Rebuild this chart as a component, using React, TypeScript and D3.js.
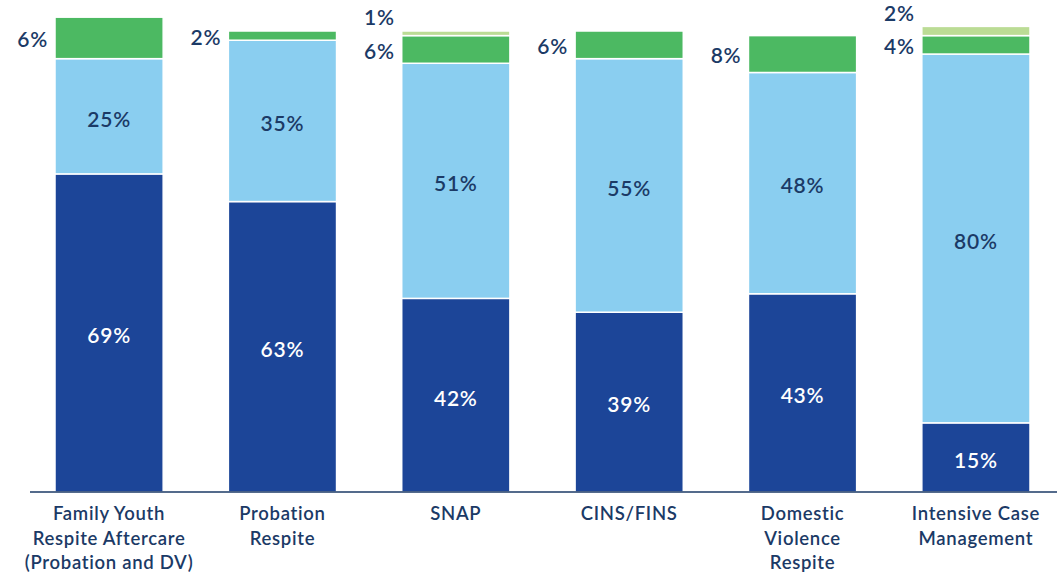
import { useEffect, useRef } from "react";
import * as d3 from "d3";

// category names, split into the lines shown under the axis
const categories = [
  "Family Youth Respite Aftercare (Probation and DV)",
  "Probation Respite",
  "SNAP",
  "CINS/FINS",
  "Domestic Violence Respite",
  "Intensive Case Management",
];
const categoryLines = [
  ["Family Youth", "Respite Aftercare", "(Probation and DV)"],
  ["Probation", "Respite"],
  ["SNAP"],
  ["CINS/FINS"],
  ["Domestic", "Violence", "Respite"],
  ["Intensive Case", "Management"],
];

// series values (percent of bar)
const darkValues = [69, 63, 42, 39, 43, 15];
const lightValues = [25, 35, 51, 55, 48, 80];
const greenValues = [9, 2, 6, 6, 8, 4]; // first bar is drawn taller than its 6% label
const paleValues = [0, 0, 1, 0, 0, 2];

// printed labels
const darkLabels = ["69%", "63%", "42%", "39%", "43%", "15%"];
const lightLabels = ["25%", "35%", "51%", "55%", "48%", "80%"];
const greenLabels = ["6%", "2%", "6%", "6%", "8%", "4%"];
const paleLabels = ["", "", "1%", "", "", "2%"];

const W = 1057;
const H = 573;
const FONT = "Lato, 'Open Sans', sans-serif";
const NAVY = "#1B3A66";

export default function App() {
  const ref = useRef<SVGSVGElement>(null);

  useEffect(() => {
    if (!ref.current) return;
    const svg = d3.select(ref.current);
    svg.selectAll("*").remove();

    const series = [
      { key: "dark", values: darkValues, labels: darkLabels, color: "#1C4598" },
      { key: "light", values: lightValues, labels: lightLabels, color: "#8ACEF0" },
      { key: "green", values: greenValues, labels: greenLabels, color: "#4CB962" },
      { key: "pale", values: paleValues, labels: paleLabels, color: "#BBDC95" },
    ];

    const x = d3.scaleBand<string>()
      .domain(categories)
      .range([55, 1030])
      .paddingInner(0.376)
      .paddingOuter(0);

    const y = d3.scaleLinear().domain([0, 100]).range([492, 31]);

    // build stacked segments
    const segs: any[] = [];
    categories.forEach((cat, i) => {
      let base = 0;
      series.forEach((s) => {
        const v = s.values[i];
        if (v > 0) {
          segs.push({ cat, key: s.key, y0: base, y1: base + v, color: s.color, label: s.labels[i] });
        }
        base += v;
      });
    });

    const g = svg.append("g");

    g.selectAll("rect.seg")
      .data(segs)
      .enter()
      .append("rect")
      .attr("class", "seg")
      .attr("x", (d) => x(d.cat)!)
      .attr("y", (d) => y(d.y1))
      .attr("width", x.bandwidth())
      .attr("height", (d) => y(d.y0) - y(d.y1))
      .attr("fill", (d) => d.color)
      .attr("stroke", "#ffffff")
      .attr("stroke-width", 1.5);

    // labels inside the big segments
    g.selectAll("text.inner")
      .data(segs.filter((d) => d.key === "dark" || d.key === "light"))
      .enter()
      .append("text")
      .attr("class", "inner")
      .attr("x", (d) => x(d.cat)! + x.bandwidth() / 2)
      .attr("y", (d) => (y(d.y0) + y(d.y1)) / 2 + 3)
      .attr("dy", "0.35em")
      .attr("text-anchor", "middle")
      .style("font-family", FONT)
      .style("font-size", "21px")
      .style("font-weight", 600)
      .style("letter-spacing", "0.8px")
      .style("fill", (d) => (d.key === "dark" ? "#ffffff" : NAVY))
      .text((d) => d.label);

    // labels for the small segments, left of the bar
    g.selectAll("text.side")
      .data(segs.filter((d) => d.key === "green" || d.key === "pale"))
      .enter()
      .append("text")
      .attr("class", "side")
      .attr("x", (d) => x(d.cat)! - 7)
      .attr("y", (d) => (d.key === "green" ? (y(d.y0) + y(d.y1)) / 2 + 2 : y(d.y1) - 13))
      .attr("dy", "0.35em")
      .attr("text-anchor", "end")
      .style("font-family", FONT)
      .style("font-size", "21px")
      .style("font-weight", 600)
      .style("letter-spacing", "0.8px")
      .style("fill", NAVY)
      .text((d) => d.label);

    // baseline
    g.append("line")
      .attr("x1", 30)
      .attr("x2", W)
      .attr("y1", y(0))
      .attr("y2", y(0))
      .attr("stroke", NAVY)
      .attr("stroke-width", 1.5);

    // category labels
    const cl = g.selectAll("text.cat")
      .data(categories)
      .enter()
      .append("text")
      .attr("class", "cat")
      .attr("x", (d) => x(d)! + x.bandwidth() / 2)
      .attr("y", 520)
      .attr("text-anchor", "middle")
      .style("font-family", FONT)
      .style("font-size", "18.5px")
      .style("font-weight", 600)
      .style("letter-spacing", "0.7px")
      .style("fill", NAVY);

    cl.each(function (d, i) {
      const t = d3.select(this);
      categoryLines[i].forEach((line, j) => {
        t.append("tspan")
          .attr("x", x(d)! + x.bandwidth() / 2)
          .attr("dy", j === 0 ? 0 : 24.5)
          .text(line);
      });
    });
  }, []);

  return (
    <svg
      ref={ref}
      width={W}
      height={H}
      style={{ position: "absolute", left: 0, top: 0, background: "#ffffff" }}
    />
  );
}
